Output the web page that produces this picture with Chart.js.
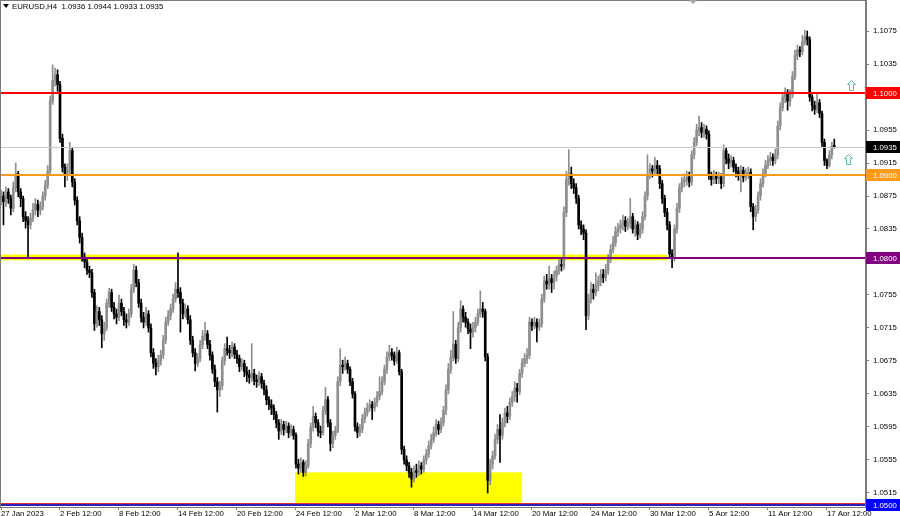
<!DOCTYPE html>
<html><head><meta charset="utf-8">
<script src="https://cdn.jsdelivr.net/npm/chart.js@4/dist/chart.umd.min.js"></script>
<style>html,body{margin:0;padding:0;background:#fff;overflow:hidden}#wrap{width:900px;height:516px}</style>
</head><body><div id="wrap"><canvas id="c" width="900" height="516"></canvas></div>
<script>
// ---------- data (EURUSD H4) ----------
const symbolTitle = "EURUSD,H4  1.0936 1.0944 1.0933 1.0935";
const firstOpen = 1.0870;
const closes = [
1.0875,1.0868,1.0880,1.0872,1.0860,1.0885,1.0902,1.0880,1.0872,1.0850,
1.0845,1.0840,1.0848,1.0858,1.0865,1.0858,1.0862,1.0875,1.0888,1.0905,
1.0990,1.1015,1.1022,1.1010,1.0945,1.0910,1.0900,1.0906,1.0930,1.0892,
1.0870,1.0845,1.0825,1.0800,1.0795,1.0785,1.0782,1.0758,1.0720,1.0735,
1.0725,1.0708,1.0715,1.0745,1.0758,1.0740,1.0732,1.0728,1.0745,1.0735,
1.0725,1.0722,1.0732,1.0762,1.0785,1.0770,1.0745,1.0728,1.0722,1.0732,
1.0715,1.0685,1.0672,1.0668,1.0675,1.0682,1.0700,1.0722,1.0730,1.0738,
1.0750,1.0762,1.0758,1.0745,1.0732,1.0738,1.0725,1.0700,1.0685,1.0672,
1.0678,1.0695,1.0705,1.0708,1.0695,1.0682,1.0665,1.0650,1.0640,1.0645,
1.0675,1.0690,1.0688,1.0685,1.0692,1.0683,1.0678,1.0668,1.0672,1.0662,
1.0658,1.0655,1.0660,1.0652,1.0650,1.0656,1.0648,1.0640,1.0628,1.0622,
1.0618,1.0610,1.0600,1.0590,1.0598,1.0592,1.0596,1.0588,1.0592,1.0585,
1.0550,1.0545,1.0552,1.0540,1.0548,1.0575,1.0595,1.0608,1.0600,1.0590,
1.0588,1.0615,1.0628,1.0600,1.0575,1.0585,1.0590,1.0650,1.0670,1.0668,
1.0672,1.0665,1.0650,1.0635,1.0595,1.0588,1.0592,1.0605,1.0612,1.0618,
1.0622,1.0618,1.0625,1.0632,1.0638,1.0650,1.0665,1.0680,1.0685,1.0682,
1.0675,1.0685,1.0662,1.0568,1.0555,1.0548,1.0540,1.0532,1.0542,1.0540,
1.0548,1.0544,1.0555,1.0562,1.0572,1.0580,1.0588,1.0598,1.0592,1.0600,
1.0615,1.0640,1.0665,1.0680,1.0695,1.0678,1.0715,1.0738,1.0728,1.0722,
1.0714,1.0710,1.0715,1.0722,1.0732,1.0738,1.0735,1.0680,1.0530,1.0550,
1.0560,1.0580,1.0592,1.0585,1.0600,1.0612,1.0608,1.0625,1.0632,1.0642,
1.0638,1.0660,1.0672,1.0678,1.0682,1.0722,1.0718,1.0722,1.0716,1.0720,
1.0750,1.0772,1.0768,1.0775,1.0770,1.0778,1.0785,1.0792,1.0790,1.0855,
1.0895,1.0902,1.0890,1.0885,1.0872,1.0840,1.0835,1.0830,1.0730,1.0750,
1.0762,1.0758,1.0766,1.0772,1.0780,1.0776,1.0785,1.0798,1.0810,1.0818,
1.0832,1.0836,1.0840,1.0845,1.0838,1.0842,1.0850,1.0835,1.0840,1.0828,
1.0835,1.0850,1.0875,1.0900,1.0908,1.0905,1.0912,1.0908,1.0890,1.0872,
1.0855,1.0840,1.0805,1.0800,1.0835,1.0860,1.0885,1.0892,1.0895,1.0898,
1.0892,1.0925,1.0940,1.0955,1.0958,1.0952,1.0956,1.0950,1.0900,1.0895,
1.0900,1.0896,1.0898,1.0890,1.0930,1.0920,1.0915,1.0918,1.0910,1.0905,
1.0900,1.0906,1.0898,1.0902,1.0904,1.0862,1.0850,1.0858,1.0875,1.0890,
1.0902,1.0912,1.0918,1.0922,1.0918,1.0925,1.0960,1.0982,1.0995,1.1000,
1.0990,1.0998,1.1020,1.1045,1.1052,1.1050,1.1062,1.1068,1.1065,1.0995,
1.0985,1.0980,1.0988,1.0975,1.0940,1.0918,1.0912,1.0925,1.0936,1.0935];
const highs = [
1.0882,1.0880,1.0886,1.0884,1.0876,1.0892,1.0915,1.0905,1.0884,1.0875,
1.0856,1.0850,1.0854,1.0866,1.0872,1.0870,1.0868,1.0880,1.0894,1.0912,
1.0996,1.1034,1.1030,1.1028,1.1014,1.0950,1.0914,1.0914,1.0940,1.0934,
1.0896,1.0874,1.0850,1.0830,1.0806,1.0800,1.0790,1.0786,1.0762,1.0742,
1.0740,1.0730,1.0722,1.0750,1.0763,1.0762,1.0746,1.0738,1.0755,1.0750,
1.0740,1.0732,1.0738,1.0768,1.0792,1.0790,1.0774,1.0750,1.0734,1.0740,
1.0736,1.0720,1.0690,1.0678,1.0682,1.0688,1.0706,1.0728,1.0736,1.0744,
1.0756,1.0770,1.0806,1.0764,1.0750,1.0744,1.0742,1.0730,1.0705,1.0690,
1.0684,1.0700,1.0712,1.0722,1.0712,1.0700,1.0686,1.0670,1.0655,1.0650,
1.0680,1.0696,1.0704,1.0694,1.0698,1.0696,1.0688,1.0682,1.0678,1.0676,
1.0668,1.0664,1.0696,1.0665,1.0658,1.0662,1.0660,1.0652,1.0645,1.0632,
1.0628,1.0622,1.0614,1.0604,1.0604,1.0602,1.0602,1.0600,1.0598,1.0596,
1.0588,1.0556,1.0558,1.0555,1.0554,1.0580,1.0600,1.0620,1.0612,1.0604,
1.0596,1.0620,1.0643,1.0632,1.0604,1.0590,1.0596,1.0656,1.0690,1.0676,
1.0680,1.0676,1.0668,1.0654,1.0638,1.0600,1.0598,1.0610,1.0618,1.0624,
1.0628,1.0626,1.0630,1.0638,1.0656,1.0656,1.0670,1.0686,1.0694,1.0690,
1.0686,1.0692,1.0688,1.0665,1.0572,1.0560,1.0552,1.0545,1.0548,1.0550,
1.0554,1.0552,1.0560,1.0568,1.0578,1.0586,1.0595,1.0604,1.0602,1.0606,
1.0620,1.0646,1.0672,1.0688,1.0735,1.0700,1.0722,1.0748,1.0742,1.0734,
1.0726,1.0720,1.0722,1.0728,1.0738,1.0760,1.0746,1.0738,1.0684,1.0556,
1.0566,1.0586,1.0598,1.0610,1.0606,1.0618,1.0620,1.0630,1.0638,1.0650,
1.0648,1.0665,1.0678,1.0684,1.0690,1.0728,1.0726,1.0728,1.0726,1.0726,
1.0756,1.0778,1.0780,1.0790,1.0780,1.0784,1.0790,1.0798,1.0800,1.0862,
1.0905,1.0931,1.0910,1.0896,1.0890,1.0876,1.0845,1.0840,1.0834,1.0756,
1.0770,1.0768,1.0782,1.0778,1.0786,1.0786,1.0792,1.0804,1.0816,1.0826,
1.0838,1.0842,1.0846,1.0852,1.0850,1.0848,1.0872,1.0854,1.0846,1.0844,
1.0842,1.0856,1.0880,1.0925,1.0914,1.0912,1.0922,1.0918,1.0912,1.0894,
1.0876,1.0860,1.0844,1.0810,1.0840,1.0866,1.0890,1.0898,1.0902,1.0905,
1.0904,1.0930,1.0946,1.0962,1.0972,1.0964,1.0962,1.0960,1.0954,1.0904,
1.0906,1.0904,1.0904,1.0902,1.0937,1.0934,1.0926,1.0924,1.0922,1.0914,
1.0910,1.0912,1.0910,1.0908,1.0910,1.0908,1.0866,1.0864,1.0880,1.0896,
1.0908,1.0918,1.0924,1.0928,1.0926,1.0932,1.0966,1.0988,1.1000,1.1006,
1.1004,1.1004,1.1026,1.1052,1.1058,1.1056,1.1070,1.1076,1.1075,1.1068,
1.0998,1.0990,1.1000,1.0992,1.0978,1.0944,1.0920,1.0930,1.0940,1.0944];
const lows = [
1.0864,1.0840,1.0862,1.0866,1.0852,1.0856,1.0880,1.0874,1.0862,1.0844,
1.0836,1.0800,1.0835,1.0844,1.0852,1.0850,1.0852,1.0858,1.0870,1.0884,
1.0900,1.0986,1.1008,1.1002,1.0940,1.0904,1.0886,1.0894,1.0902,1.0886,
1.0864,1.0840,1.0818,1.0796,1.0788,1.0780,1.0776,1.0752,1.0712,1.0716,
1.0718,1.0691,1.0700,1.0712,1.0740,1.0735,1.0726,1.0720,1.0724,1.0730,
1.0718,1.0715,1.0718,1.0728,1.0758,1.0765,1.0740,1.0722,1.0715,1.0718,
1.0710,1.0680,1.0666,1.0658,1.0662,1.0670,1.0678,1.0696,1.0718,1.0725,
1.0734,1.0746,1.0752,1.0710,1.0726,1.0728,1.0720,1.0695,1.0680,1.0663,
1.0668,1.0674,1.0690,1.0700,1.0690,1.0676,1.0660,1.0644,1.0613,1.0632,
1.0640,1.0670,1.0682,1.0678,1.0680,1.0678,1.0672,1.0662,1.0664,1.0656,
1.0650,1.0648,1.0650,1.0646,1.0643,1.0645,1.0642,1.0634,1.0622,1.0616,
1.0610,1.0604,1.0594,1.0580,1.0586,1.0585,1.0588,1.0582,1.0584,1.0580,
1.0545,1.0538,1.0540,1.0535,1.0536,1.0545,1.0570,1.0590,1.0594,1.0584,
1.0582,1.0585,1.0610,1.0595,1.0566,1.0570,1.0580,1.0588,1.0645,1.0660,
1.0664,1.0660,1.0645,1.0630,1.0590,1.0582,1.0584,1.0588,1.0600,1.0608,
1.0614,1.0604,1.0614,1.0620,1.0628,1.0634,1.0646,1.0660,1.0675,1.0676,
1.0670,1.0672,1.0658,1.0562,1.0550,1.0542,1.0534,1.0522,1.0528,1.0534,
1.0536,1.0538,1.0540,1.0550,1.0558,1.0568,1.0576,1.0584,1.0586,1.0588,
1.0596,1.0610,1.0635,1.0660,1.0675,1.0672,1.0674,1.0710,1.0722,1.0716,
1.0708,1.0690,1.0704,1.0710,1.0718,1.0728,1.0728,1.0675,1.0515,1.0525,
1.0544,1.0556,1.0575,1.0552,1.0580,1.0595,1.0600,1.0604,1.0620,1.0626,
1.0625,1.0634,1.0655,1.0668,1.0672,1.0678,1.0712,1.0714,1.0698,1.0712,
1.0716,1.0746,1.0762,1.0762,1.0758,1.0762,1.0772,1.0780,1.0784,1.0786,
1.0850,1.0888,1.0884,1.0878,1.0866,1.0835,1.0828,1.0822,1.0713,1.0725,
1.0745,1.0750,1.0754,1.0760,1.0766,1.0770,1.0772,1.0780,1.0794,1.0806,
1.0814,1.0826,1.0830,1.0834,1.0832,1.0834,1.0836,1.0830,1.0826,1.0822,
1.0824,1.0830,1.0846,1.0870,1.0896,1.0898,1.0900,1.0902,1.0884,1.0866,
1.0850,1.0834,1.0800,1.0788,1.0796,1.0830,1.0855,1.0880,1.0886,1.0888,
1.0886,1.0888,1.0920,1.0936,1.0948,1.0946,1.0946,1.0944,1.0895,1.0888,
1.0890,1.0890,1.0890,1.0884,1.0886,1.0914,1.0908,1.0910,1.0904,1.0898,
1.0894,1.0880,1.0892,1.0894,1.0896,1.0856,1.0834,1.0844,1.0854,1.0870,
1.0886,1.0898,1.0908,1.0912,1.0912,1.0914,1.0920,1.0955,1.0978,1.0988,
1.0979,1.0984,1.0994,1.1016,1.1040,1.1044,1.1046,1.1058,1.1058,1.0990,
1.0978,1.0974,1.0976,1.0970,1.0935,1.0912,1.0908,1.0910,1.0920,1.0933];
const tickIndex = [0,24,48,72,96,120,144,168,192,216,240,264,288,312,336];
const tickLabels = ["27 Jan 2023","2 Feb 12:00","8 Feb 12:00","14 Feb 12:00","20 Feb 12:00","24 Feb 12:00","2 Mar 12:00","8 Mar 12:00","14 Mar 12:00","20 Mar 12:00","24 Mar 12:00","30 Mar 12:00","5 Apr 12:00","11 Apr 12:00","17 Apr 12:00"];
const priceTicks = [1.0515,1.0555,1.0595,1.0635,1.0675,1.0715,1.0755,1.0795,1.0835,1.0875,1.0915,1.0955,1.0995,1.1035,1.1075];
const levelValues = [1.1000, 1.0935, 1.0900, 1.0800, 1.0500];
const levelLabels = ["1.1000","1.0935","1.0900","1.0800","1.0500"];
const zoneFrom = [119.6, -0.4];
const zoneTo   = [212.0, 271.0];
const zoneLow  = [1.0503, 1.0797];
const zoneHigh = [1.0540, 1.0804];
const arrowIndex = [345.8, 344.6];
const arrowPrice = [1.1010, 1.0920];
const shiftIndex = 281.5;

// ---------- styles ----------
const FONT = "'Liberation Sans', Arial, sans-serif";
const FSIZE = 7.8;
const levelStyle = [
  {color:'#ff0000', width:2, box:'#ff0000'},
  {color:'#c8c8c8', width:1, box:'#000000'},
  {color:'#ff9a1a', width:2, box:'#ff9a1a'},
  {color:'#800080', width:2, box:'#800080'},
  {color:'#2a1fc0', width:2, box:'#0000ff'}
];
const zoneColor = ['#ffff00', '#ffff00'];
const BULL = '#8e8e8e', BEAR = '#000000';

const openOf = i => i ? closes[i-1] : firstOpen;
const isUp = i => closes[i] >= openOf(i);
const bodies = closes.map((c,i)=>({x:i, y:[openOf(i), c]}));
const wicks = closes.map((c,i)=>({x:i, y:[lows[i], highs[i]]}));

const overlay = {
  id:'overlay',
  beforeDatasetsDraw(chart){
    const {ctx, chartArea:a, scales:{x,y}} = chart;
    ctx.save();
    ctx.beginPath(); ctx.rect(a.left,a.top,a.width,a.height); ctx.clip();
    for (let k=0;k<zoneFrom.length;k++){
      const x0=x.getPixelForValue(zoneFrom[k]), x1=x.getPixelForValue(zoneTo[k]);
      const y0=y.getPixelForValue(zoneHigh[k]), y1=y.getPixelForValue(zoneLow[k]);
      ctx.fillStyle=zoneColor[k];
      ctx.fillRect(x0,y0,x1-x0,y1-y0);
    }
    ctx.restore();
  },
  afterDatasetsDraw(chart){
    const {ctx, chartArea:a, scales:{x,y}} = chart;
    ctx.save();
    ctx.beginPath(); ctx.rect(a.left,a.top,a.width,a.height); ctx.clip();
    levelValues.forEach((v,k)=>{
      const py=y.getPixelForValue(v), st=levelStyle[k];
      if (k===4){ ctx.strokeStyle='#e03030'; ctx.lineWidth=1; ctx.beginPath(); ctx.moveTo(a.left,Math.round(py)-1.5); ctx.lineTo(a.right,Math.round(py)-1.5); ctx.stroke(); }
      ctx.strokeStyle=st.color; ctx.lineWidth=st.width;
      const yy = st.width===1 ? Math.round(py)+0.5 : Math.round(py);
      ctx.beginPath(); ctx.moveTo(a.left,yy); ctx.lineTo(a.right,yy); ctx.stroke();
    });
    // arrows
    ctx.strokeStyle='#5cbf8a'; ctx.lineWidth=1;
    arrowIndex.forEach((ix,k)=>{
      const cx=Math.round(x.getPixelForValue(ix))+0.5, cy=Math.round(y.getPixelForValue(arrowPrice[k]))+0.5;
      ctx.beginPath();
      ctx.moveTo(cx,cy-5); ctx.lineTo(cx+4,cy-1); ctx.lineTo(cx+2,cy-1); ctx.lineTo(cx+2,cy+5);
      ctx.lineTo(cx-2,cy+5); ctx.lineTo(cx-2,cy-1); ctx.lineTo(cx-4,cy-1); ctx.closePath(); ctx.stroke();
    });
    ctx.restore();
    // frame
    ctx.save();
    ctx.strokeStyle='#7a7a7a'; ctx.lineWidth=1;
    ctx.strokeRect(a.left+0.5,a.top+0.5,a.width-1,a.height);
    // shift marker
    const sx=x.getPixelForValue(shiftIndex);
    ctx.fillStyle='#a8a8a8'; ctx.beginPath(); ctx.moveTo(sx-4,a.top); ctx.lineTo(sx+4,a.top); ctx.lineTo(sx,a.top+4); ctx.closePath(); ctx.fill();
    // level label boxes
    ctx.font = FSIZE+'px '+FONT; ctx.textBaseline='middle'; ctx.textAlign='left';
    levelValues.forEach((v,k)=>{
      const py=Math.round(y.getPixelForValue(v));
      ctx.fillStyle=levelStyle[k].box;
      ctx.fillRect(a.right, py-6, chart.width-a.right, 12);
      ctx.fillStyle='#ffffff';
      ctx.fillText(levelLabels[k], a.right+7, py+0.5);
    });
    // title
    ctx.fillStyle='#000';
    ctx.beginPath(); ctx.moveTo(3,4); ctx.lineTo(9,4); ctx.lineTo(6,8); ctx.closePath(); ctx.fill();
    ctx.fillText(symbolTitle, 12, 6.5);
    ctx.restore();
  }
};

const noPad = s => { s.paddingTop=0; s.paddingBottom=0; s.paddingLeft=0; s.paddingRight=0; };

new Chart(document.getElementById('c'), {
  data:{
    datasets:[
      {type:'bar', data:bodies, order:0, grouped:false, barThickness:2, minBarLength:1, borderWidth:0,
       backgroundColor:c=>isUp(c.dataIndex)?BULL:BEAR},
      {type:'bar', data:wicks, order:1, grouped:false, barThickness:1, borderWidth:0,
       backgroundColor:c=>isUp(c.dataIndex)?BULL:BEAR}
    ]
  },
  options:{
    responsive:false, animation:false, devicePixelRatio:1, events:[],
    layout:{padding:0},
    plugins:{legend:{display:false}, tooltip:{enabled:false}},
    scales:{
      x:{type:'linear', min:-0.407, max:351.9, offset:false,
        afterBuildTicks:s=>{s.ticks=tickIndex.map(v=>({value:v}));},
        afterFit:s=>{s.height=9; noPad(s);},
        ticks:{autoSkip:false, maxRotation:0, minRotation:0, align:'start', padding:-1, color:'#000',
          font:{family:FONT, size:FSIZE}, callback:(v,i)=>tickLabels[i]},
        grid:{drawOnChartArea:false, drawTicks:true, tickLength:3, color:'#808080', offset:false},
        border:{display:true, color:'#808080'}
      },
      y:{type:'linear', position:'right', min:1.0498, max:1.11126,
        afterBuildTicks:s=>{s.ticks=priceTicks.map(v=>({value:v}));},
        afterFit:s=>{s.width=34; noPad(s);},
        ticks:{autoSkip:false, padding:4, crossAlign:'near', color:'#000',
          font:{family:FONT, size:FSIZE}, callback:v=>v.toFixed(4)},
        grid:{drawOnChartArea:false, drawTicks:true, tickLength:3, color:'#808080'},
        border:{display:true, color:'#808080'}
      }
    }
  },
  plugins:[overlay]
});
</script></body></html>
